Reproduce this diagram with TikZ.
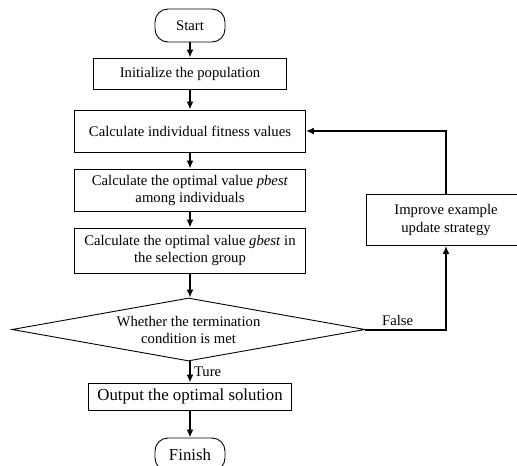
\documentclass[tikz,border=0pt]{standalone}
\usepackage{fontspec}
\setmainfont{Liberation Serif}
\usetikzlibrary{arrows.meta}
\usetikzlibrary{shapes.geometric}

\tikzset{
	box/.style={draw, line width=0.9pt, inner sep=0pt, align=center, font=\fontsize{14.7}{17}\selectfont},
	term/.style={box, rounded corners=13pt},
	lbl/.style={font=\fontsize{14.7}{17}\selectfont, inner sep=3pt},
	flow/.style={-{Latex[length=8pt,width=7pt]}, line width=2pt},
}

\begin{document}
\begin{tikzpicture}[x=1pt, y=-1pt]

	\useasboundingbox (0,0) rectangle (517,466);
	\clip (0,0) rectangle (517,466);

	% main column
	\node[term, minimum width=70pt, minimum height=33pt] (start) at (190,25.5) {Start};
	\node[box, minimum width=193pt, minimum height=31pt] (init) at (190,73.5) {Initialize the population};
	\node[box, minimum width=231pt, minimum height=42pt] (fit) at (190,131) {Calculate individual fitness values};
	\node[box, minimum width=231pt, minimum height=42pt] (pbest) at (190,190) {Calculate the optimal value \textit{pbest}\\among individuals};
	\node[box, minimum width=231pt, minimum height=45pt] (gbest) at (190,250.5) {Calculate the optimal value \textit{gbest} in\\the selection group};

	% decision
	\node[box, diamond, shape aspect=5.6, minimum width=353pt, minimum height=63pt] (dec) at (188.5,329.5) {Whether the termination\\condition is met};

	% end part
	\node[box, minimum width=203pt, minimum height=27pt, font=\fontsize{16.8}{19}\selectfont] (out) at (190,396.5) {Output the optimal solution};
	\node[term, minimum width=70pt, minimum height=33pt, font=\fontsize{16.8}{19}\selectfont] (finish) at (190,454.5) {Finish};

	% feedback box
	\node[box, minimum width=160pt, minimum height=51pt, font=\fontsize{14.7}{18}\selectfont] (imp) at (446,220) {Improve example\\update strategy};

	% Arrows
	\draw[flow] (start) -- (init);
	\draw[flow] (init) -- (fit);
	\draw[flow] (fit) -- (pbest);
	\draw[flow] (pbest) -- (gbest);
	\draw[flow] (gbest.south) -- (gbest.south |- dec.north);
	\draw[flow] (dec.south -| out.north) -- node[lbl, right=0pt] {Ture} (out.north);
	\draw[flow] (out) -- (finish);
	\draw[flow] (dec.east) -| node[lbl, pos=0.2, above] {False} (imp.south);
	\draw[flow] (imp.north) |- (fit.east);
\end{tikzpicture}
\end{document}
